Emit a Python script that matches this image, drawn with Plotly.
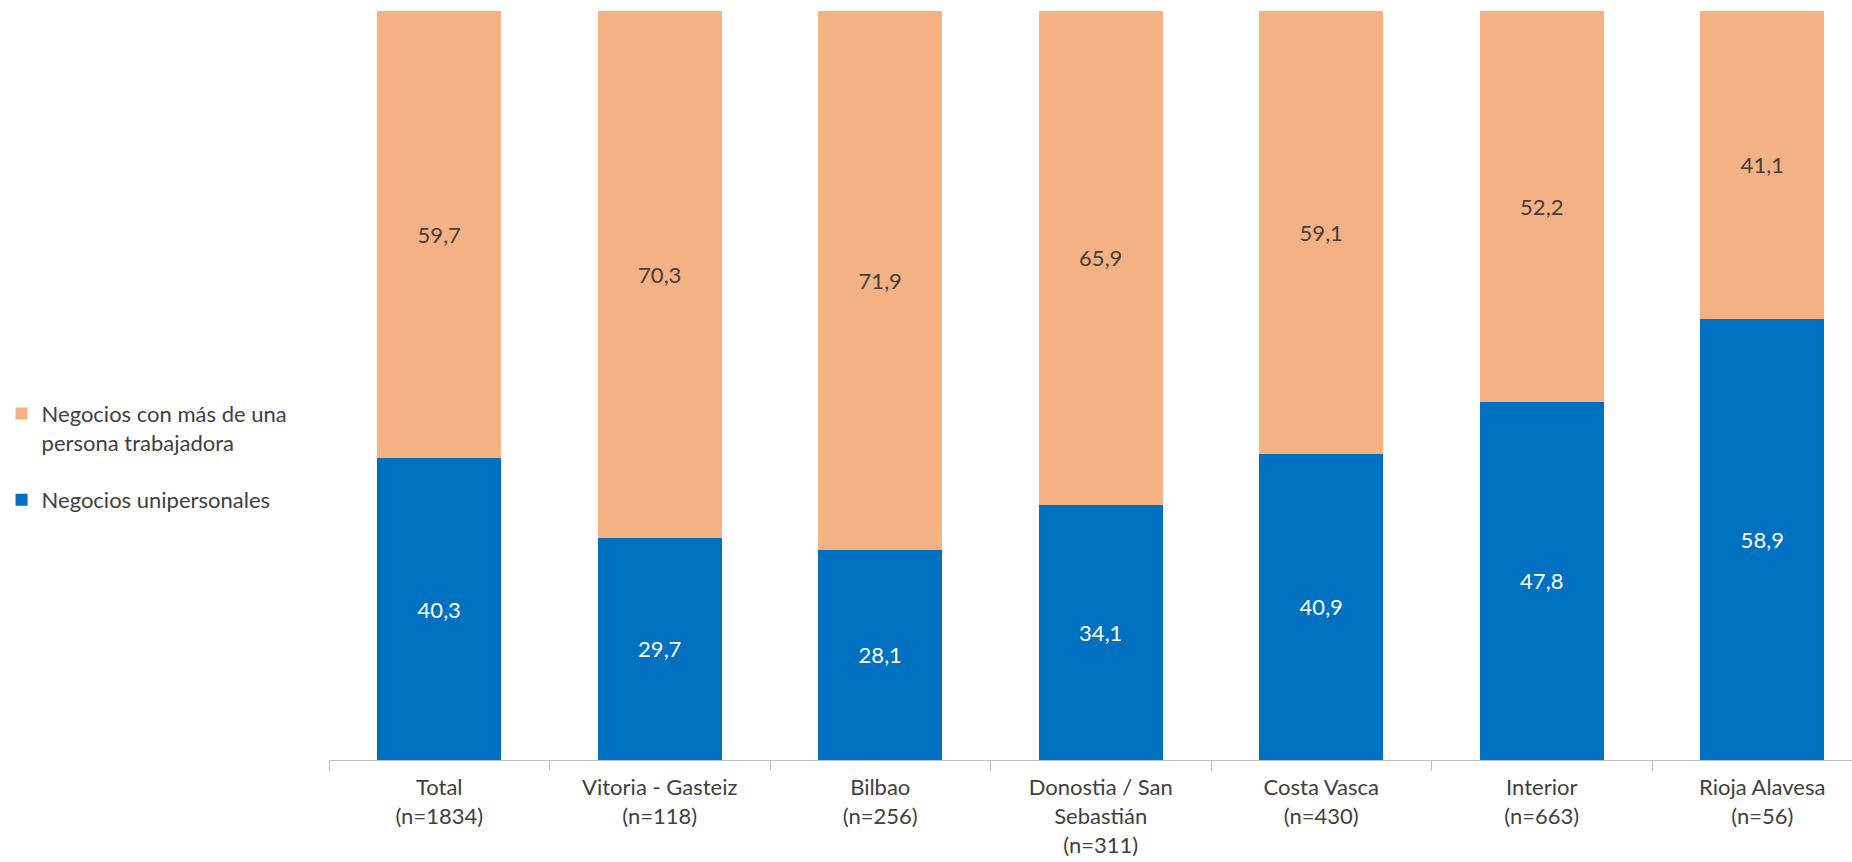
import plotly.graph_objects as go

categories = ["Total<br>(n=1834)", "Vitoria - Gasteiz<br>(n=118)", "Bilbao<br>(n=256)",
              "Donostia / San<br>Sebastián<br>(n=311)", "Costa Vasca<br>(n=430)",
              "Interior<br>(n=663)", "Rioja Alavesa<br>(n=56)"]
unipersonales = [40.3, 29.7, 28.1, 34.1, 40.9, 47.8, 58.9]
mas_de_una = [59.7, 70.3, 71.9, 65.9, 59.1, 52.2, 41.1]

name_uni = "Negocios unipersonales"
name_mas = "Negocios con más de una<br>persona trabajadora"

FONT = "Lato"
FS = 22

def fmt(v):
    return f"{v:.1f}".replace(".", ",")

fig = go.Figure()
fig.add_trace(go.Bar(
    x=categories, y=unipersonales, name=name_uni,
    marker=dict(color="#0070C0", line=dict(width=0)),
    text=[fmt(v) for v in unipersonales], textposition="inside",
    insidetextanchor="middle", textangle=0,
    textfont=dict(color="white", size=FS, family=FONT),
    legendgroup="b", legendrank=2, width=0.562,
))
fig.add_trace(go.Bar(
    x=categories, y=mas_de_una, name=name_mas,
    marker=dict(color="#F4B183", line=dict(width=0)),
    text=[fmt(v) for v in mas_de_una], textposition="inside",
    insidetextanchor="middle", textangle=0,
    textfont=dict(color="#404040", size=FS, family=FONT),
    legendgroup="a", legendrank=1, width=0.562,
))

fig.update_layout(
    barmode="stack",
    width=1852, height=862,
    margin=dict(l=329, r=0, t=11, b=102),
    paper_bgcolor="white", plot_bgcolor="white",
    font=dict(family=FONT, size=FS, color="#404040"),
    showlegend=True,
    legend=dict(
        x=-0.215, xanchor="left", y=0.405, yanchor="middle",
        traceorder="grouped", tracegroupgap=26, valign="top",
        font=dict(size=FS, color="#404040", family=FONT),
        itemwidth=30, bgcolor="rgba(0,0,0,0)",
    ),
    xaxis=dict(
        range=[-0.5, 6.407], showline=True, linecolor="#BFBFBF", linewidth=1,
        ticks="outside", tickson="boundaries", ticklen=10, tickcolor="#BFBFBF",
        showgrid=False, tickfont=dict(size=FS, color="#404040", family=FONT),
        tickangle=0, ticklabelstandoff=8,
    ),
    yaxis=dict(range=[0, 100], visible=False, showgrid=False),
)

fig.write_html("out.html")
